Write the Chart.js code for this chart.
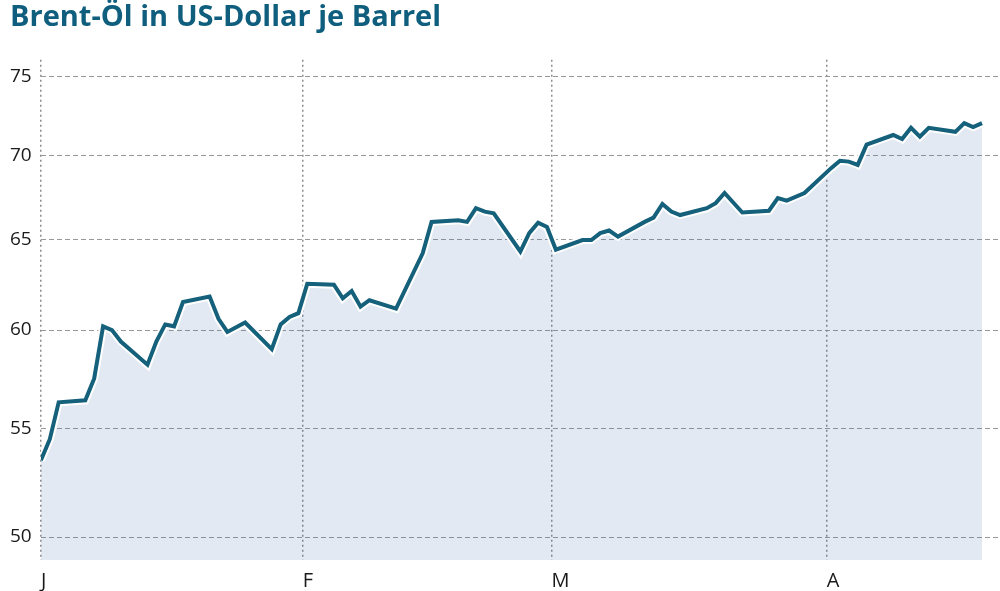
<!DOCTYPE html>
<html>
<head>
<meta charset="utf-8">
<script src="https://cdn.jsdelivr.net/npm/chart.js@4"></script>
<style>
  html, body { margin: 0; padding: 0; background: #fff; }
  #wrap { width: 1000px; height: 591px; }
</style>
</head>
<body>
<div id="wrap"><canvas id="chart" width="1000" height="591"></canvas></div>
<script>
// Day of year 2019 (Jan 1 = 0), only the visible vertices of the line
const days = [1, 2, 3, 6, 7, 8, 9, 10, 13, 14, 15, 16, 17, 20, 21, 22, 24, 27, 28, 29, 30,
  31, 34, 35, 36, 37, 38, 41, 44, 45, 48, 49, 50, 51, 52, 55, 56, 57, 58,
  59, 62, 63, 64, 65, 66, 69, 70, 71, 72, 73, 76, 77, 78, 80, 83, 84, 85, 87,
  90, 91, 92, 93, 94, 97, 98, 99, 100, 101, 104, 105, 106, 107];
// Brent price in USD per barrel
const prices = [53.5, 54.5, 56.3, 56.4, 57.5, 60.2, 60.0, 59.4, 58.2, 59.4, 60.3, 60.2, 61.5, 61.8, 60.6, 59.9, 60.4, 59.0, 60.3, 60.7, 60.9,
  62.5, 62.45, 61.7, 62.1, 61.25, 61.6, 61.15, 64.2, 66.0, 66.1, 66.0, 66.8, 66.6, 66.5, 64.3, 65.35, 65.95, 65.7,
  64.4, 64.95, 64.95, 65.35, 65.5, 65.15, 66.0, 66.25, 67.05, 66.6, 66.4, 66.8, 67.1, 67.7, 66.55, 66.65, 67.4, 67.25, 67.7,
  69.2, 69.65, 69.6, 69.4, 70.65, 71.25, 71.0, 71.7, 71.15, 71.7, 71.45, 72.0, 71.75, 72.0];
const monthTicks = [1, 30.5, 58.5, 89.5];
const monthLabels = ["J", "F", "M", "A"];
const yTicks = [50, 55, 60, 65, 70, 75];

const makePoints = () => days.map((d, i) => ({ x: d, y: prices[i] }));

new Chart(document.getElementById("chart"), {
  type: "line",
  data: {
    datasets: [
      {
        // main line (index 0 is drawn on top)
        data: makePoints(),
        borderColor: "#15607a",
        borderWidth: 4,
        fill: false,
        pointRadius: 0,
        tension: 0
      },
      {
        // white halo + area fill underneath
        data: makePoints(),
        borderColor: "#ffffff",
        borderWidth: 8,
        backgroundColor: "rgba(60, 100, 160, 0.14)",
        fill: "start",
        pointRadius: 0,
        tension: 0
      }
    ]
  },
  options: {
    responsive: false,
    animation: false,
    layout: { padding: { left: 10, right: 2, top: 0, bottom: 0 } },
    plugins: {
      legend: { display: false },
      tooltip: { enabled: false },
      title: {
        display: true,
        text: "Brent-Öl in US-Dollar je Barrel",
        align: "start",
        color: "#0f5e7e",
        font: { family: "'Open Sans'", size: 29, weight: "bold" },
        padding: { top: 0, bottom: 25 }
      }
    },
    scales: {
      x: {
        type: "linear",
        min: 1,
        max: 108.8,
        afterBuildTicks: (scale) => { scale.ticks = monthTicks.map(v => ({ value: v })); },
        afterFit: (scale) => { scale.height = 31; },
        border: { display: false, dash: [2, 3] },
        grid: {
          color: "#8c8c8c",
          lineWidth: 1.5,
          drawTicks: false
        },
        ticks: {
          align: "start",
          padding: 9,
          color: "#1a1a1a",
          font: { family: "'Open Sans'", size: 20 },
          callback: (v) => monthLabels[monthTicks.indexOf(v)]
        }
      },
      y: {
        type: "logarithmic",
        min: 49.0,
        max: 76.13,
        afterBuildTicks: (scale) => { scale.ticks = yTicks.map(v => ({ value: v })); },
        border: { display: false, dash: [5, 3] },
        grid: {
          color: "#999999",
          lineWidth: 1,
          drawTicks: false
        },
        ticks: {
          crossAlign: "far",
          padding: 4.6,
          color: "#1a1a1a",
          font: { family: "'Open Sans'", size: 19 },
          callback: (v) => String(v)
        }
      }
    }
  }
});
</script>
</body>
</html>
